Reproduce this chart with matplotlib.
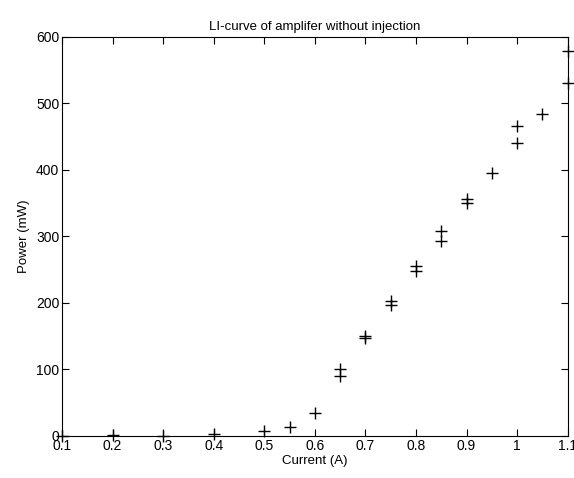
import matplotlib
matplotlib.use("Agg")
import matplotlib.pyplot as plt

# first sweep
current_a = [0.1, 0.2, 0.3, 0.4, 0.5, 0.55, 0.6, 0.65, 0.7, 0.75, 0.8, 0.85, 0.9, 0.95, 1.0, 1.05, 1.1]
power_a = [0, 1, 0, 3, 7, 13, 35, 90, 147, 197, 248, 293, 350, 395, 440, 484, 530]

# second sweep
current_b = [0.65, 0.7, 0.75, 0.8, 0.85, 0.9, 1.0, 1.1]
power_b = [100, 150, 203, 256, 308, 356, 466, 578]

xticks = [0.1, 0.2, 0.3, 0.4, 0.5, 0.6, 0.7, 0.8, 0.9, 1, 1.1]
xticklabels = ["0.1", "0.2", "0.3", "0.4", "0.5", "0.6", "0.7", "0.8", "0.9", "1", "1.1"]
yticks = [0, 100, 200, 300, 400, 500, 600]

plt.rcParams['font.family'] = ['Liberation Sans', 'DejaVu Sans']

fig = plt.figure(figsize=(5.74, 4.78), dpi=100)
ax = fig.add_axes([0.108, 0.088, 0.881, 0.835])

ax.plot(current_a, power_a, '+', color='black', markersize=8, markeredgewidth=1.0, clip_on=False)
ax.plot(current_b, power_b, '+', color='black', markersize=8, markeredgewidth=1.0, clip_on=False)

ax.set_xlim(0.1, 1.1)
ax.set_ylim(0, 600)
ax.set_xticks(xticks)
ax.set_xticklabels(xticklabels)
ax.set_yticks(yticks)
ax.tick_params(direction='in', top=True, right=True, labelsize=10, length=5, width=0.8, pad=2)
for s in ax.spines.values():
    s.set_linewidth(0.8)

ax.set_xlabel('Current (A)', fontsize=9.5, labelpad=2)
ax.set_ylabel('Power (mW)', fontsize=9.5, labelpad=4)
ax.set_title('LI-curve of amplifer without injection', fontsize=9.5, pad=5)

fig.savefig('out.png', dpi=100)
